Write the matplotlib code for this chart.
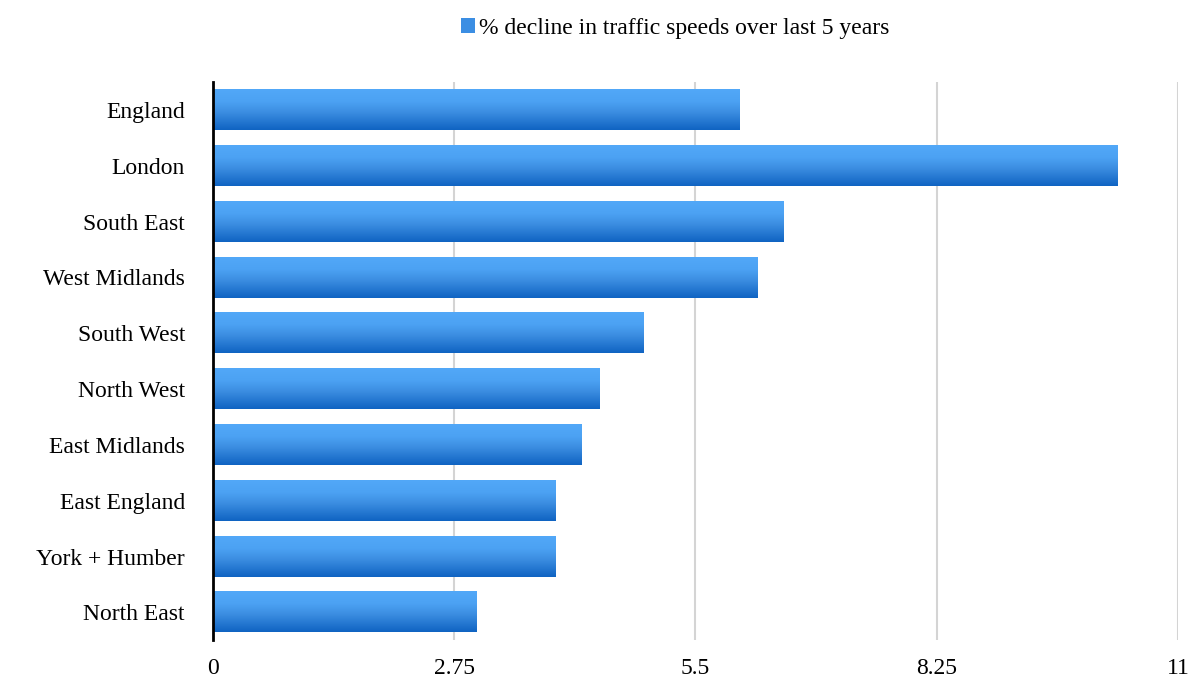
import numpy as np
import matplotlib.pyplot as plt
from matplotlib.patches import Patch
from matplotlib.colors import LinearSegmentedColormap

regions = ["England", "London", "South East", "West Midlands", "South West",
           "North West", "East Midlands", "East England", "York + Humber", "North East"]
decline = [6.0, 10.3, 6.5, 6.2, 4.9, 4.4, 4.2, 3.9, 3.9, 3.0]
xticks = [0, 2.75, 5.5, 8.25, 11]
xtick_labels = ["0", "2.75", "5.5", "8.25", "11"]
series_label = "% decline in traffic speeds over last 5 years"

plt.rcParams['font.family'] = ['Liberation Serif', 'DejaVu Serif']

fig = plt.figure(figsize=(11.95, 6.84), dpi=100)
ax = fig.add_axes([0.178, 0.064, 0.808, 0.816])

# gradient: light on top, dark at bottom
cmap = LinearSegmentedColormap.from_list("bar", [(0, "#0f63c2"), (0.45, "#3d8fe2"), (0.7, "#4ca2f3"), (1, "#52a8f8")])
grad = np.linspace(0, 1, 256).reshape(-1, 1)

y = np.arange(len(regions))
bars = ax.barh(y, decline, height=0.72, color="none", zorder=2)
for b in bars:
    x0, y0 = b.get_x(), b.get_y()
    w, h = b.get_width(), b.get_height()
    ax.imshow(grad[::-1], cmap=cmap, aspect="auto", extent=(x0, x0 + w, y0 + h, y0),
              origin="upper", zorder=2, interpolation="bilinear")

ax.set_xlim(0, 11)
ax.set_ylim(len(regions) - 0.5, -0.5)
ax.set_yticks(y)
ax.set_yticklabels(regions, fontsize=17)
ax.set_xticks(xticks)
ax.set_xticklabels(xtick_labels, fontsize=17)
ax.tick_params(axis="both", length=0)
ax.tick_params(axis="x", pad=13)
ax.tick_params(axis="y", pad=20)
ax.grid(axis="x", color="#d4d4d4", linewidth=1.5, zorder=0)
ax.set_axisbelow(True)
for s in ["top", "right", "bottom"]:
    ax.spines[s].set_visible(False)
ax.spines["left"].set_linewidth(2)
ax.spines["left"].set_zorder(3)

fig.legend(handles=[Patch(facecolor="#3b8ee3", label=series_label)],
           loc="upper center", bbox_to_anchor=(0.565, 1.005), frameon=False,
           fontsize=17, handlelength=0.6, handleheight=0.6, handletextpad=0.2)

fig.savefig("out.png", dpi=100)
